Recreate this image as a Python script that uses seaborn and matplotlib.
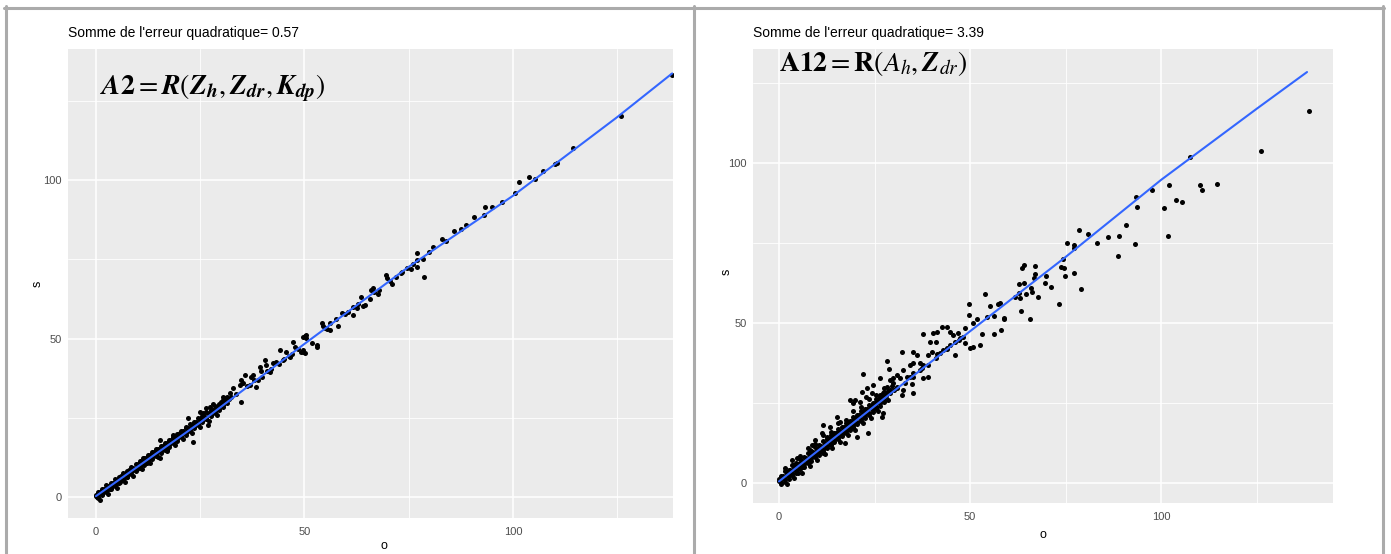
import matplotlib
matplotlib.use("Agg")
import matplotlib.pyplot as plt
import seaborn as sns
import pandas as pd
from matplotlib.lines import Line2D

# ---------------- data: panel A2 (observed o, simulated s) ----------------
a2_obs = [
    138.2, 125.9, 114.5, 110.5, 110.1, 107.3, 105.3, 103.8, 101.5, 100.6, 97.4, 93.4, 93.0, 90.7, 88.8,
    85.9, 83.1, 80.9, 77.1, 77.1, 78.5, 77.0, 78.8, 75.5, 74.5, 73.5, 73.1, 71.1, 69.7, 69.5, 67.6, 66.5,
    65.9, 65.7, 66.7, 64.5, 63.5, 64.0, 62.5, 61.6, 61.6, 58.9, 58.1, 57.5, 56.1, 56.1, 55.3, 54.1, 54.5,
    52.9, 51.7, 50.5, 49.7, 49.7, 50.1,
    44.1, 45.7, 47.3, 47.7, 50.1, 50.5, 49.7, 49.3, 52.9, 46.5, 44.9, 43.3, 42.5, 41.7,
    39.3, 40.5, 40.9, 39.7, 37.7, 38.9, 38.5, 37.3, 35.7, 34.9, 34.5, 35.3, 34.9, 32.9, 32.1, 31.3, 32.5,
    30.5, 30.1, 28.1, 27.3, 28.9, 26.5, 27.7, 25.7, 24.9, 26.9, 23.3, 22.1, 23.3, 21.7, 20.9, 20.1, 18.5,
    19.4, 15.3, 15.3, 16.1, 17.0, 14.6, 13.7, 12.9, 11.3, 12.2, 10.6, 9.8, 9.0, 8.2, 7.4, 6.5, 5.8, 5.0,
    4.2, 3.4, 2.6, 1.8, 1.0, 0.2,
    33.5, 36.2, 37.0, 38.0, 39.8, 41.0, 42.0, 43.8, 45.0, 46.2, 47.0, 48.4, 55.0, 59.8, 60.5, 62.8, 68.0,
    70.5, 72.0, 76.0, 80.0, 84.0, 87.5, 95.0,
    0.5, 1.5, 2.5, 3.5, 4.5, 5.5, 6.5, 7.5, 8.5, 9.5, 10.5, 11.5, 12.5, 13.5, 14.5, 15.5, 16.5, 17.5,
    18.5, 19.5, 20.5, 21.5, 22.5, 23.5, 24.5, 25.5, 26.5, 27.5, 28.5, 29.5, 30.5, 31.5,
    0, 1, 2, 3, 4, 5, 6, 7, 8, 9, 10, 11, 12, 13, 14, 15, 16, 17, 18, 19, 20, 21, 22, 23, 24, 25, 26,
    27, 28, 29, 30, 31, 32,
    0.5, 1.5, 2.5, 3.5, 4.5, 5.5, 6.5, 7.5, 8.5, 9.5, 10.5, 11.5, 12.5, 13.5, 14.5, 15.5, 16.5, 17.5,
    18.5, 19.5, 20.5, 21.5, 22.5, 23.5, 24.5, 25.5, 26.5, 27.5, 28.5, 29.5, 30.5,
    1, 3, 5, 7, 9, 11, 13, 15, 17, 19, 21, 23, 25, 27, 29,
    0, 1, 2, 3, 4, 5, 6, 7, 8, 9, 10, 11, 12, 13, 14, 15, 16, 17, 18, 19, 20, 21, 22, 23, 24, 25, 26,
    27, 28, 29, 30,
    0.5, 1.5, 2.5, 3.5, 4.5, 5.5, 6.5, 7.5, 8.5, 9.5, 10.5, 11.5, 12.5, 13.5, 14.5, 15.5, 16.5, 17.5,
    18.5, 19.5, 20.5, 21.5, 22.5, 23.5, 24.5, 25.5, 26.5, 27.5, 28.5, 29.5, 30.5, 31.5,
]
a2_sim = [
    133.1, 120.2, 110.0, 105.5, 104.9, 102.9, 100.2, 101.0, 99.5, 96.0, 93.2, 91.6, 89.1, 88.2, 85.7,
    84.0, 81.5, 78.8, 77.1, 74.8, 75.0, 72.6, 69.5, 71.8, 72.3, 71.1, 70.6, 67.1, 69.0, 70.0, 64.0, 65.8,
    65.3, 62.4, 64.8, 60.6, 63.0, 60.3, 59.5, 60.0, 57.3, 58.0, 53.9, 56.1, 54.8, 52.7, 52.9, 54.8, 54.0,
    47.9, 48.7, 51.1, 50.6, 45.8, 45.5,
    46.4, 45.8, 49.0, 47.4, 50.8, 50.1, 46.4, 45.8, 47.4, 44.3, 43.2, 42.7, 42.2, 39.5,
    41.1, 43.2, 41.6, 39.8, 38.5, 36.9, 34.8, 38.0, 38.5, 36.9, 35.3, 35.9, 30.1, 34.3, 32.7, 31.1, 31.6,
    31.6, 30.1, 29.5, 28.5, 28.5, 28.0, 26.9, 26.4, 26.9, 22.7, 17.4, 24.8, 23.2, 22.2, 20.6, 20.1, 19.6,
    19.0, 18.0, 12.2, 15.9, 14.8, 14.8, 13.8, 12.7, 12.2, 10.6, 10.1, 9.0, 8.5, 7.5, 6.4, 5.4, 4.8, 4.3,
    3.8, 2.7, 2.2, 1.7, 1.2, 0.1,
    32.6, 34.9, 35.4, 36.8, 38.0, 39.7, 40.3, 41.9, 43.5, 44.6, 45.0, 46.8, 53.3, 57.6, 58.4, 60.9, 65.4,
    68.2, 69.3, 73.4, 77.2, 80.6, 84.5, 91.4,
    1.7, 2.6, 3.7, 4.5, 5.6, 6.4, 7.5, 8.3, 9.4, 10.3, 11.3, 12.2, 13.3, 14.1, 15.2, 16.0, 17.1, 17.9,
    19.0, 19.9, 20.9, 21.8, 22.9, 23.7, 24.8, 25.6, 26.7, 27.5, 28.6, 29.4, 30.5, 31.4,
    0.2, 1.2, 2.1, 3.1, 4.0, 5.0, 6.0, 6.9, 7.9, 8.8, 9.8, 10.8, 11.7, 12.7, 13.6, 14.6, 15.6, 16.5, 17.5,
    18.4, 19.4, 20.4, 21.3, 22.3, 23.2, 24.2, 25.2, 26.1, 27.1, 28.0, 29.0, 30.0, 30.9,
    -0.4, 0.5, 1.5, 2.5, 3.4, 4.4, 5.3, 6.3, 7.3, 8.2, 9.2, 10.1, 11.1, 12.1, 13.0, 14.0, 14.9, 15.9,
    16.9, 17.8, 18.8, 19.7, 20.7, 21.7, 22.6, 23.6, 24.5, 25.5, 26.5, 27.4, 28.4,
    -0.8, 1.1, 3.0, 4.9, 6.8, 8.8, 10.7, 12.6, 14.5, 16.4, 18.4, 20.3, 22.2, 24.1, 26.0,
    0.7, 1.7, 2.6, 3.6, 4.5, 5.5, 6.5, 7.4, 8.4, 9.3, 10.3, 11.3, 12.2, 13.2, 14.1, 15.1, 16.1, 17.0,
    18.0, 18.9, 19.9, 20.9, 21.8, 22.8, 23.7, 24.7, 25.7, 26.6, 27.6, 28.5, 29.5,
    0.1, 1.0, 2.0, 3.0, 3.9, 4.9, 5.8, 6.8, 7.8, 8.7, 9.7, 10.6, 11.6, 12.6, 13.5, 14.5, 15.4, 16.4,
    17.4, 18.3, 19.3, 20.2, 21.2, 22.2, 23.1, 24.1, 25.0, 26.0, 27.0, 27.9, 28.9, 29.8,
]
a2_fit_o = [0, 25, 50, 75, 100, 125, 138.2]
a2_fit_s = [0.3, 23.5, 48.3, 72.6, 95.0, 119.8, 133.6]

# ---------------- data: panel A12 ----------------
a12_obs = [
    138.6, 126.2, 107.6, 102.1, 110.2, 110.8, 114.7, 97.6, 93.5, 93.7, 100.7, 103.9, 105.4, 101.7, 90.8,
    89.0, 93.1, 88.7, 86.0, 83.2, 81.0, 78.5, 75.5, 77.2, 77.2, 77.1, 79.0, 74.7, 73.7, 74.8, 74.4, 73.2,
    71.1, 69.6, 69.8, 67.7, 66.9, 66.9, 66.7, 64.0, 63.5, 64.1, 62.7, 62.8, 64.7, 66.2, 66.0, 61.7, 63.0,
    63.4, 65.8, 58.9, 57.9,
    54.0, 49.8, 55.2, 57.4, 54.4, 56.3, 58.9, 49.7, 51.8, 50.7, 58.1, 56.3, 53.2, 50.0, 50.9, 52.6, 46.9,
    44.8, 45.6, 43.9, 48.7, 47.4, 48.1, 46.1, 48.7, 42.6, 41.3, 40.4, 41.1, 44.8, 46.1, 43.0, 42.1, 43.9,
    37.6, 39.5, 40.0, 39.1, 41.3, 35.2, 36.0, 36.9, 35.2, 34.3, 37.8, 37.4, 37.6, 39.1, 35.2, 32.1, 28.2,
    32.5, 33.4, 31.7, 34.3, 30.8, 29.9, 29.1, 34.9, 35.2, 32.5, 32.1, 28.8, 26.4, 28.2, 27.3, 29.1, 26.4,
    29.9, 30.8, 22.1, 24.7, 23.0, 22.8, 24.3, 18.6, 19.9, 21.2, 19.5, 21.6, 23.4, 24.7, 26.9, 27.3, 23.4,
    20.5, 15.1, 16.0, 17.5, 16.8, 15.1, 17.3, 11.6, 13.4, 11.2, 12.5, 14.2, 8.6, 9.4, 10.7, 8.1, 9.9, 11.6,
    4.6, 5.5, 3.7, 6.4, 7.3, 5.1,
    31.0, 33.0, 35.0, 37.0, 39.0, 41.0, 44.0, 47.0,
    1.5, 3.5, 5.5, 7.5, 9.5, 11.5, 13.5, 15.5, 17.5, 19.5, 21.5, 23.5, 25.5, 27.5,
    0.5, 1.5, 2.5, 3.5, 4.5, 5.5, 6.5, 7.5, 8.5, 9.5, 10.5, 11.5, 12.5, 13.5, 14.5, 15.5, 16.5, 17.5,
    18.5, 19.5, 20.5, 21.5, 22.5, 23.5, 24.5, 25.5, 26.5, 27.5, 28.5, 29.5,
    0, 1, 2, 3, 4, 5, 6, 7, 8, 9, 10, 11, 12, 13, 14, 15, 16, 17, 18, 19, 20, 21, 22, 23, 24, 25, 26,
    27, 28, 29, 30,
    0.5, 1.5, 2.5, 3.5, 4.5, 5.5, 6.5, 7.5, 8.5, 9.5, 10.5, 11.5, 12.5, 13.5, 14.5, 15.5, 16.5, 17.5,
    18.5, 19.5, 20.5, 21.5, 22.5, 23.5, 24.5, 25.5, 26.5, 27.5, 28.5,
    2, 4, 6, 8, 10, 12, 14, 16, 18, 20, 22, 24, 26,
    0, 1, 2, 3, 4, 5, 6, 7, 8, 9, 10, 11, 12, 13, 14, 15, 16, 17, 18, 19, 20, 21, 22, 23, 24, 25, 26,
    27, 28,
    0.5, 1.5, 2.5, 3.5, 4.5, 5.5, 6.5, 7.5, 8.5, 9.5, 10.5, 11.5, 12.5, 13.5, 14.5, 15.5, 16.5, 17.5,
    18.5, 19.5, 20.5, 21.5, 22.5, 23.5, 24.5, 25.5, 26.5, 27.5,
]
a12_sim = [
    116.3, 103.8, 102.0, 93.2, 93.2, 91.5, 93.5, 91.6, 89.3, 86.2, 86.0, 88.4, 87.8, 77.3, 80.6,
    77.3, 74.6, 70.9, 77.0, 75.1, 77.8, 79.1, 75.1, 74.3, 73.4, 65.5, 60.6, 67.3, 67.5, 64.8, 70.0, 55.8,
    61.2, 62.4, 64.8, 58.1, 67.8, 65.2, 64.0, 68.1, 67.3, 62.4, 62.1, 59.4, 59.1, 59.7, 61.0, 58.0, 57.8,
    53.75, 51.25, 51.7, 56.2,
    59.1, 55.9, 55.3, 55.9, 52.0, 52.2, 51.1, 52.5, 51.1, 49.9, 47.8, 46.6, 46.6, 42.1, 42.6, 43.1, 46.8,
    47.3, 46.3, 48.8, 48.3, 45.2, 45.7, 44.2, 43.7, 48.8, 47.3, 46.8, 44.2, 43.1, 40.0, 41.6, 40.5, 42.1,
    46.6, 43.9, 41.0, 40.0, 40.3, 41.0, 40.0, 37.4, 37.4, 36.9, 36.9, 35.8, 32.7, 33.2, 34.3, 41.0, 38.2,
    35.3, 33.2, 32.7, 33.2, 33.75, 32.7, 32.2, 30.9, 28.0, 29.1, 27.5, 35.5, 32.7, 30.1, 28.0, 29.1, 27.5,
    31.2, 30.1, 34.0, 30.6, 29.6, 27.0, 28.0, 25.9, 25.9, 25.4, 24.9, 28.5, 21.8, 22.8, 20.7, 21.8, 15.5,
    14.5, 20.7, 19.2, 17.6, 16.0, 15.5, 12.6, 18.1, 17.6, 15.5, 14.5, 13.4, 11.9, 13.4, 11.3, 10.3, 9.3, 9.3,
    7.7, 6.2, 5.6, 5.1, 7.2, 3.0,
    29.6, 31.3, 33.1, 35.2, 36.9, 38.9, 41.8, 44.6,
    4.6, 7.2, 8.4, 11.0, 12.1, 14.9, 15.9, 18.6, 19.8, 22.4, 23.6, 26.2, 27.4, 29.8,
    2.3, 3.6, 4.2, 5.5, 6.1, 7.4, 8.0, 9.3, 9.9, 11.2, 11.8, 13.1, 13.7, 15.0, 15.6, 16.9, 17.5, 18.8,
    19.4, 20.7, 21.3, 22.6, 23.2, 24.5, 25.1, 26.4, 27.0, 28.3, 28.9, 30.2,
    0.5, 1.5, 2.4, 3.4, 4.3, 5.3, 6.2, 7.2, 8.1, 9.1, 10.0, 11.0, 11.9, 12.9, 13.8, 14.8, 15.7, 16.7,
    17.6, 18.6, 19.5, 20.5, 21.4, 22.4, 23.3, 24.3, 25.2, 26.2, 27.1, 28.1, 29.0,
    -0.3, 0.4, 1.3, 2.4, 3.2, 4.3, 5.1, 6.2, 7.0, 8.1, 8.9, 10.0, 10.8, 11.9, 12.7, 13.8, 14.6, 15.7,
    16.5, 17.6, 18.4, 19.5, 20.3, 21.4, 22.2, 23.3, 24.1, 25.2, 26.0,
    -0.2, 1.6, 3.2, 5.4, 7.1, 9.2, 10.9, 12.8, 14.9, 16.6, 18.7, 20.4, 22.6,
    1.2, 2.2, 3.1, 4.1, 5.0, 6.0, 6.9, 7.9, 8.8, 9.8, 10.7, 11.7, 12.6, 13.6, 14.5, 15.5, 16.4, 17.4,
    18.3, 19.3, 20.2, 21.2, 22.1, 23.1, 24.0, 25.0, 25.9, 26.9, 27.8,
    0.2, 1.1, 2.1, 3.0, 4.0, 4.9, 5.9, 6.8, 7.8, 8.7, 9.7, 10.6, 11.6, 12.5, 13.5, 14.4, 15.4, 16.3,
    17.3, 18.2, 19.2, 20.1, 21.1, 22.0, 23.0, 23.9, 24.9, 25.8,
]
a12_fit_o = [0, 25, 50, 75, 100, 125, 138.2]
a12_fit_s = [0.5, 24.0, 47.4, 70.6, 94.7, 116.9, 128.4]

titles = ["Somme de l'erreur quadratique= 0.57", "Somme de l'erreur quadratique= 3.39"]
formulas = [
    r"$\mathbfit{A}\mathbf{2} = \mathbfit{R}(\mathbfit{Z}_{\mathbfit{h}}, \mathbfit{Z}_{\mathbfit{dr}}, \mathbfit{K}_{\mathbfit{dp}})$",
    r"$\mathbf{A12} = \mathbf{R}(\mathit{A}_{h}, \mathbfit{Z}_{dr})$",
]
major_ticks = [0, 50, 100]
minor_ticks = [25, 75, 125]
tick_labels = ["0", "50", "100"]

# ---------------- figure ----------------
sns.set_style("white")
plt.rcParams["font.family"] = ["Liberation Sans", "DejaVu Sans"]
plt.rcParams["mathtext.fontset"] = "stix"

W, H = 1391, 554
fig = plt.figure(figsize=(W / 100, H / 100), dpi=100)
fig.patch.set_facecolor("white")


def fx(px):
    return px / W


def fy(py):
    return 1 - py / H


ax1 = fig.add_axes([fx(68), fy(518), 605 / W, 469 / H])
ax2 = fig.add_axes([fx(753), fy(503), 580 / W, 454 / H])

panels = [
    (ax1, a2_obs, a2_sim, a2_fit_o, a2_fit_s, (-6.7, 138.4), (-6.6, 141.3)),
    (ax2, a12_obs, a12_sim, a12_fit_o, a12_fit_s, (-6.8, 145.0), (-6.25, 135.6)),
]

for ax, o, s, fo, fs, xl, yl in panels:
    ax.set_facecolor("#EBEBEB")
    df = pd.DataFrame({"o": o, "s": s})
    sns.scatterplot(data=df, x="o", y="s", ax=ax, color="black", s=13, linewidth=0, zorder=3)
    fit = pd.DataFrame({"o": fo, "s": fs})
    sns.lineplot(data=fit, x="o", y="s", ax=ax, color="#3366FF", lw=1.5, estimator=None, sort=False, zorder=4)
    ax.set_xlim(*xl)
    ax.set_ylim(*yl)
    ax.set_xticks(major_ticks)
    ax.set_xticklabels(tick_labels)
    ax.set_yticks(major_ticks)
    ax.set_yticklabels(tick_labels)
    ax.set_xticks(minor_ticks, minor=True)
    ax.set_yticks(minor_ticks, minor=True)
    ax.grid(which="major", color="white", lw=1.1)
    ax.grid(which="minor", color="white", lw=0.6)
    ax.set_axisbelow(True)
    for sp in ax.spines.values():
        sp.set_visible(False)
    ax.tick_params(which="minor", length=0)
    ax.tick_params(axis="both", which="major", length=2.3, width=0.8, color="#333333",
                   labelcolor="#4D4D4D", labelsize=8)
    ax.tick_params(axis="x", pad=4)
    ax.tick_params(axis="y", pad=2)
    ax.set_xlabel("o", fontsize=9, color="black")
    ax.set_ylabel("s", fontsize=9, color="black")
    ax.xaxis.label.set_va("top")
    ax.yaxis.label.set_va("center")

ax1.xaxis.set_label_coords((384 - 68) / 605, (518 - 540) / 469)
ax1.yaxis.set_label_coords((38 - 68) / 605, (518 - 284) / 469)
ax2.xaxis.set_label_coords((1043 - 753) / 580, (503 - 529) / 454)
ax2.yaxis.set_label_coords((727 - 753) / 580, (503 - 272) / 454)

# titles and formulas
fig.text(fx(68), fy(33), titles[0], ha="left", va="center", fontsize=10, color="black")
fig.text(fx(753), fy(33), titles[1], ha="left", va="center", fontsize=10, color="black")
fig.text(fx(100), fy(88), formulas[0], ha="left", va="center", fontsize=20, color="black")
fig.text(fx(779), fy(64), formulas[1], ha="left", va="center", fontsize=20, color="black")

# grey frames of the two screenshots
bc = "#ABABAB"
fig.add_artist(Line2D([fx(4), fx(1384)], [fy(7.5), fy(7.5)], color=bc, lw=2.2, transform=fig.transFigure))
fig.add_artist(Line2D([fx(5.5), fx(5.5)], [fy(6), fy(554)], color=bc, lw=2.2, transform=fig.transFigure))
fig.add_artist(Line2D([fx(693.5), fx(693.5)], [fy(6), fy(554)], color=bc, lw=2.2, transform=fig.transFigure))
fig.add_artist(Line2D([fx(1382.5), fx(1382.5)], [fy(6), fy(554)], color=bc, lw=2.2, transform=fig.transFigure))

fig.savefig("out.png", dpi=100, facecolor="white")
